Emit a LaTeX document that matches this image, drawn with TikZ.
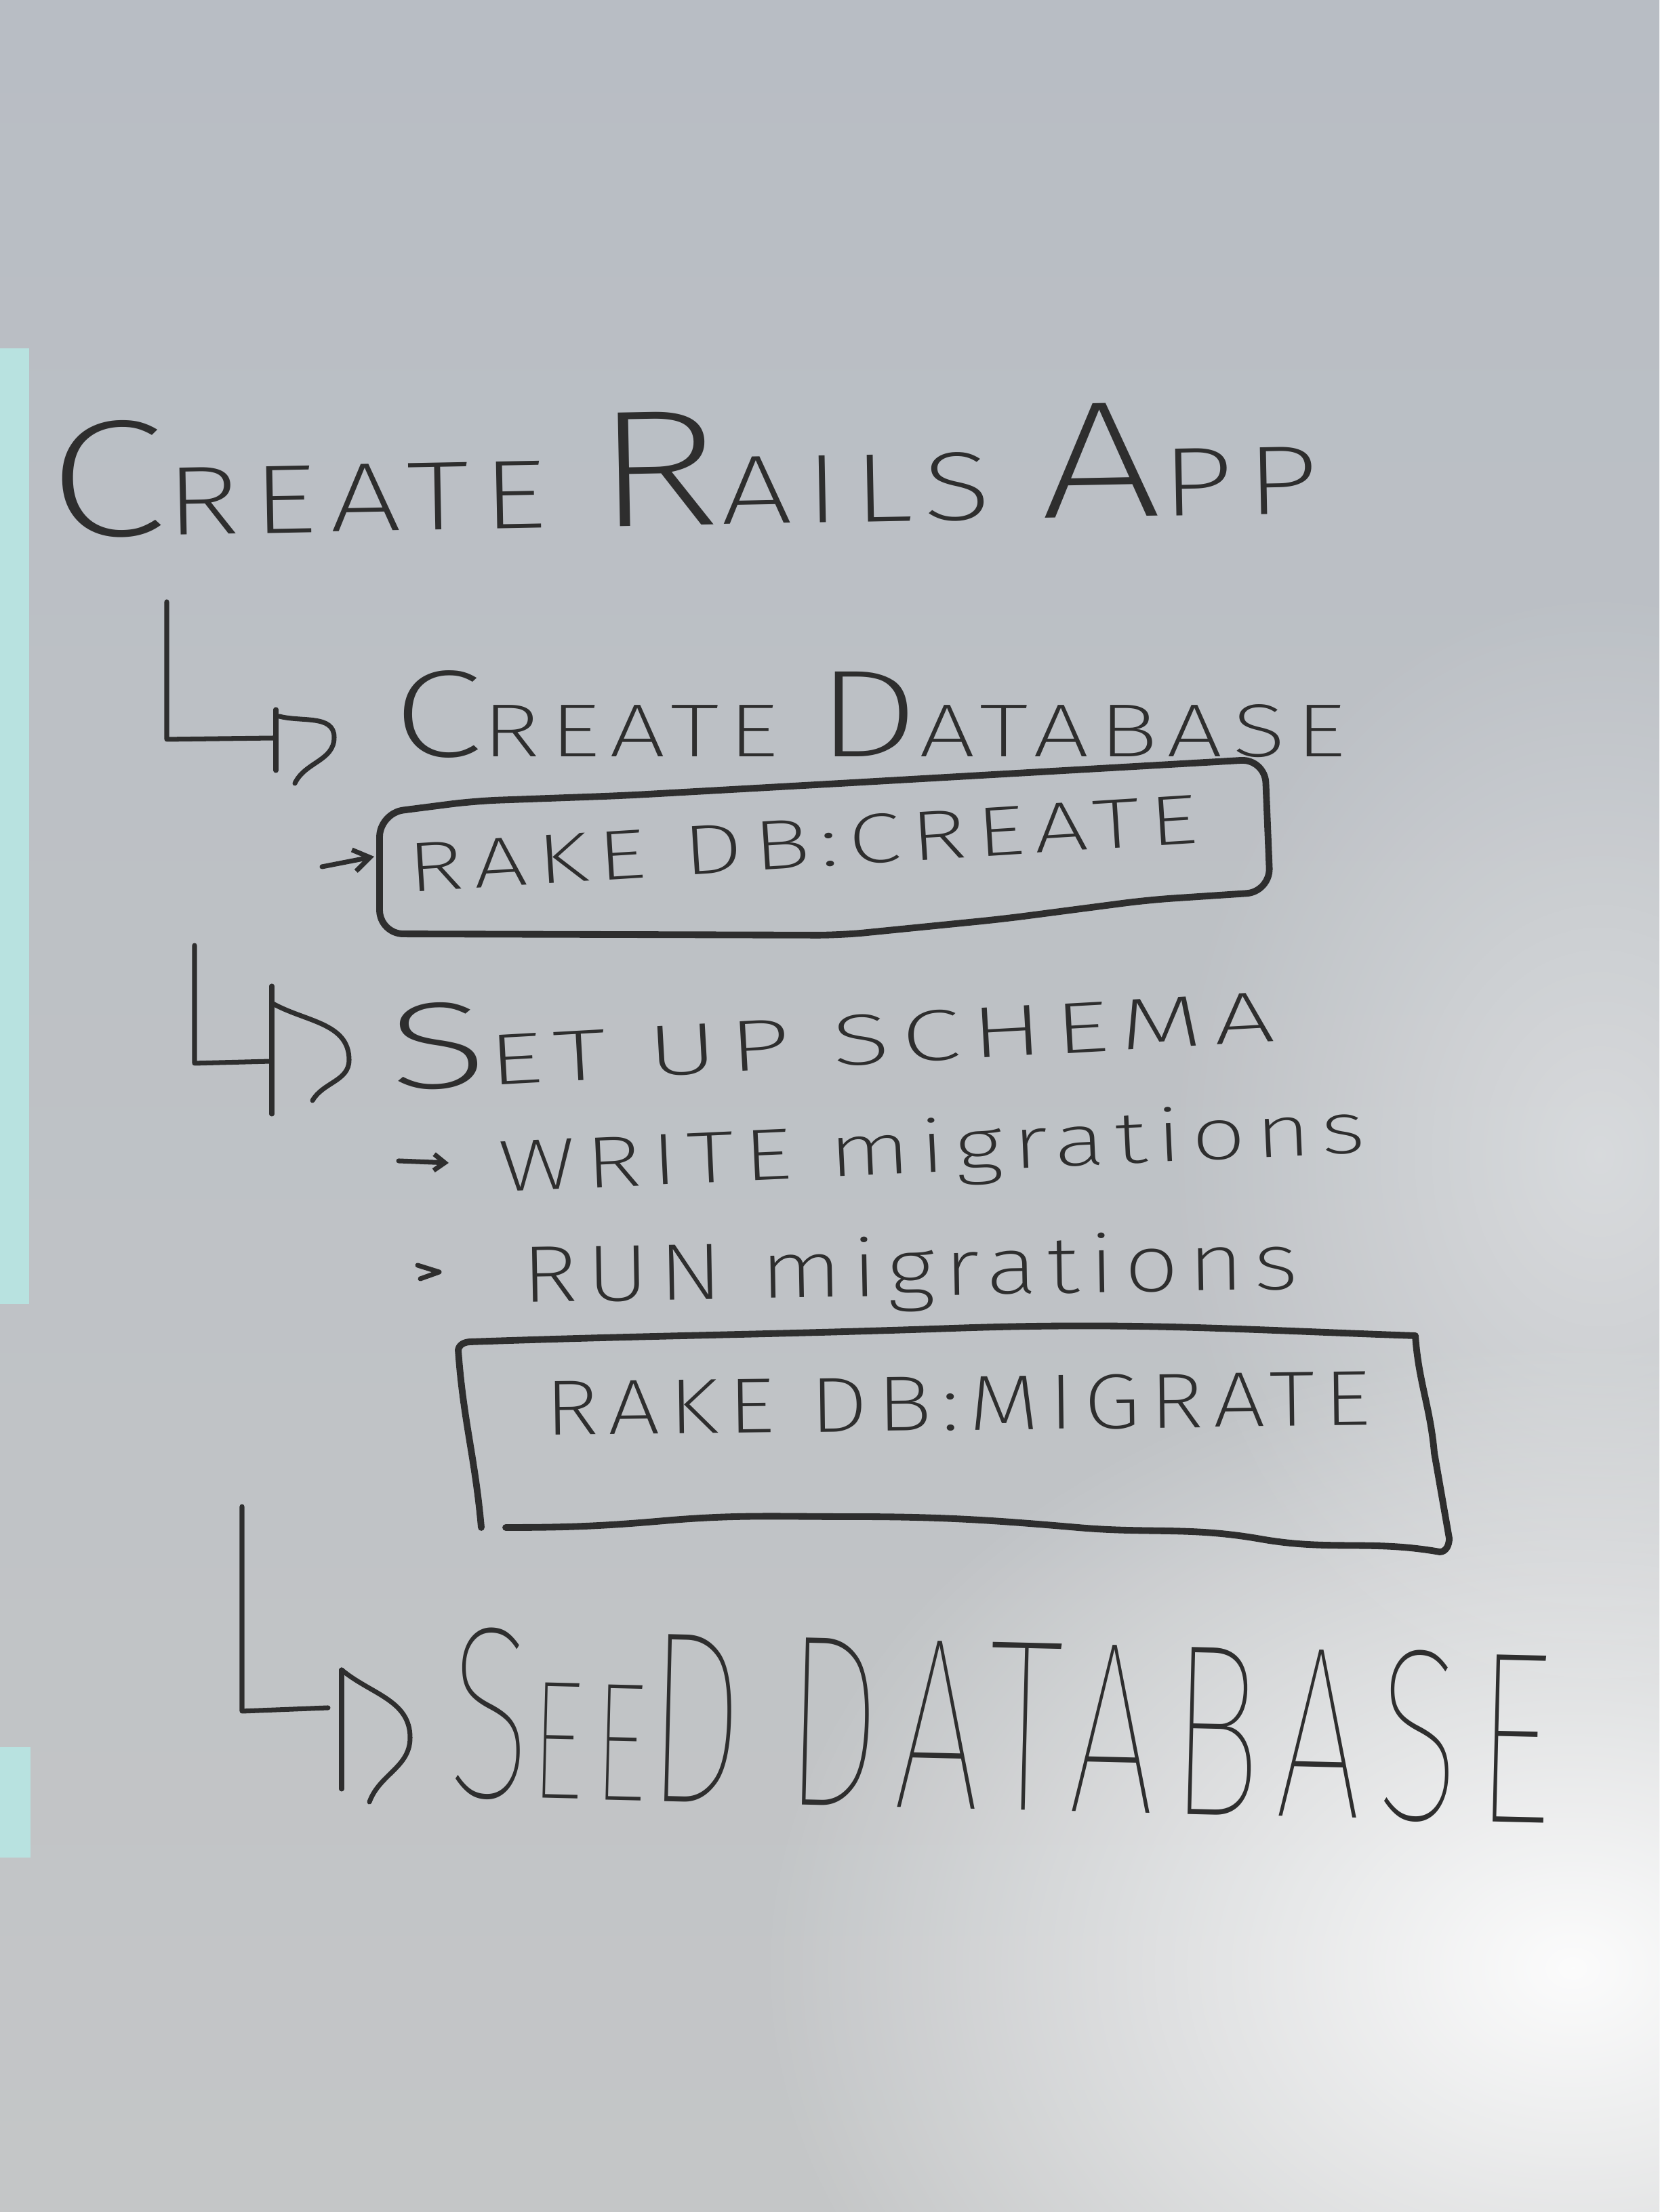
\documentclass[tikz,border=0pt]{standalone}
\usepackage{fontspec}
\usepackage{graphicx}
\usetikzlibrary{fadings,arrows.meta}
\newfontfamily\hand{Fira Sans ExtraLight}[LetterSpace=10]
\newfontfamily\handthin{Fira Sans Thin}[LetterSpace=10]
\definecolor{ink}{HTML}{2E2E2E}
\definecolor{boardtop}{RGB}{184,189,196}
\definecolor{boardmid}{RGB}{204,206,210}
\definecolor{boardlow}{RGB}{196,198,199}
\definecolor{beam}{RGB}{184,226,224}
\tikzfading[name=glare, inner color=transparent!0, outer color=transparent!100]
% handwritten line: width, height, text
\newcommand\hw[3]{\resizebox{#1}{#2}{\hand #3}}
\newcommand\capup[2][1.7]{\scalebox{#1}{#2}}

\begin{document}
\begin{tikzpicture}[line join=round, line cap=round, >=Stealth,
  pen/.style={draw=ink, line width=1pt},
  boxpen/.style={draw=ink, line width=1.4pt},
  txt/.style={anchor=base west, inner sep=0pt, text=ink}]
  \def\W{12.24}
  \def\H{16.32}
  \useasboundingbox (0,0) rectangle (\W,\H);

  % whiteboard
  \begin{scope}
    \clip (0,0) rectangle (\W,\H);
    \shade[top color=boardtop, middle color=boardmid, bottom color=boardlow] (0,0) rectangle (\W,\H);
    \fill[white, path fading=glare, opacity=0.95] (11.6,1.8) ellipse (6 and 4.6);
    \fill[white, path fading=glare, opacity=0.4] (11.8,7.8) ellipse (3.2 and 4.2);
    \fill[beam] (0,6.7) rectangle (0.215,13.75);
    \fill[beam] (0,2.615) rectangle (0.225,3.43);
  \end{scope}

  % texts
  \node[txt, rotate=1.1] (title) at (0.35,12.355)
    {\hw{9.37cm}{0.85cm}{\capup{C}REATE \capup{R}AILS \capup{A}PP}};
  \node[txt] (createdb) at (2.89,10.735)
    {\hw{7.03cm}{0.635cm}{\capup[1.65]{C}REATE \capup[1.65]{D}ATABASE}};
  \node[txt, rotate=3.6] (rakecreate) at (3.01,9.735)
    {\hw{5.84cm}{0.36cm}{RAKE DB:CREATE}};
  \node[txt, rotate=3.2] (schema) at (2.875,8.27)
    {\hw{6.54cm}{0.63cm}{\capup{S}ET UP SCHEMA}};
  \node[txt, rotate=2.6] (writemig) at (3.68,7.525)
    {\hw{6.4cm}{0.4cm}{WRITE migrations}};
  \node[txt, rotate=1] (runmig) at (3.845,6.71)
    {\hw{5.73cm}{0.44cm}{RUN migrations}};
  \node[txt, rotate=0.7] (rakemig) at (4.015,5.73)
    {\hw{6.09cm}{0.4cm}{RAKE DB:MIGRATE}};
  \node[txt, rotate=-1.4] (seeddb) at (3.29,3.07)
    {\resizebox{8.14cm}{1.25cm}{\handthin \capup[1.45]{S}EE\capup[1.45]{D} \capup[1.45]{DATABASE}}};

  % L arrows
  \coordinate (l1top) at (1.23,11.88);
  \coordinate (l1bend) at (1.23,10.865);
  \coordinate (l1end) at (2.035,10.875);
  \draw[pen] (l1top) -- (l1bend) -- (l1end);
  \draw[pen] (2.035,11.085) -- (2.035,10.635);
  \draw[pen] (2.06,11.035) to[out=-15,in=90] (2.465,10.88) to[out=-90,in=65] (2.175,10.54);

  \coordinate (l2top) at (1.435,9.345);
  \coordinate (l2bend) at (1.435,8.475);
  \coordinate (l2end) at (2.005,8.49);
  \draw[pen] (l2top) -- (l2bend) -- (l2end);
  \draw[pen] (2.005,9.045) -- (2.005,8.1);
  \draw[pen] (2.005,8.92) to[out=-30,in=90] (2.575,8.5) to[out=-90,in=60] (2.305,8.2);

  \coordinate (l3top) at (1.785,5.205);
  \coordinate (l3bend) at (1.785,3.695);
  \coordinate (l3end) at (2.42,3.72);
  \draw[pen] (l3top) -- (l3bend) -- (l3end);
  \draw[pen] (2.52,4.0) -- (2.52,3.12);
  \draw[pen] (2.52,4.0) to[out=-40,in=90] (3.025,3.5) to[out=-90,in=70] (2.725,3.025);

  % box rake db:create
  \draw[boxpen, rounded corners=5pt] (2.80,10.32) -- (3.5,10.41) -- (4.6,10.45) -- (6.2,10.54)
    -- (9.33,10.72) -- (9.37,9.74) -- (8.47,9.68) -- (7.4,9.54) -- (6.2,9.42)
    -- (2.80,9.43) -- cycle;
  \coordinate (box1in) at (2.76,10.0);
  \draw[pen, -{Straight Barb[length=1.2mm,width=1.6mm]}] (2.375,9.925) -- (box1in);

  % bullets
  \draw[pen, -{Straight Barb[length=0.8mm,width=1.2mm]}] (2.94,7.755) -- (3.31,7.74);
  \draw[pen] (3.08,6.985) -- (3.24,6.935) -- (3.10,6.885);

  % box rake db:migrate
  \draw[boxpen] (3.55,5.05) to[out=95,in=-86] (3.38,6.36)
    to[out=80,in=182] (3.47,6.42) to[out=2,in=182] (7.03,6.52) to[out=2,in=178] (10.44,6.465)
    to[out=-86,in=95] (10.58,5.6) -- (10.69,4.97) to[out=-90,in=0] (10.62,4.87)
    to[out=170,in=-10] (9.3,4.965) to[out=170,in=-5] (7.95,5.05) to[out=175,in=0] (6.27,5.13)
    to[out=180,in=5] (4.9,5.1) to[out=185,in=0] (3.73,5.05);
\end{tikzpicture}
\end{document}
